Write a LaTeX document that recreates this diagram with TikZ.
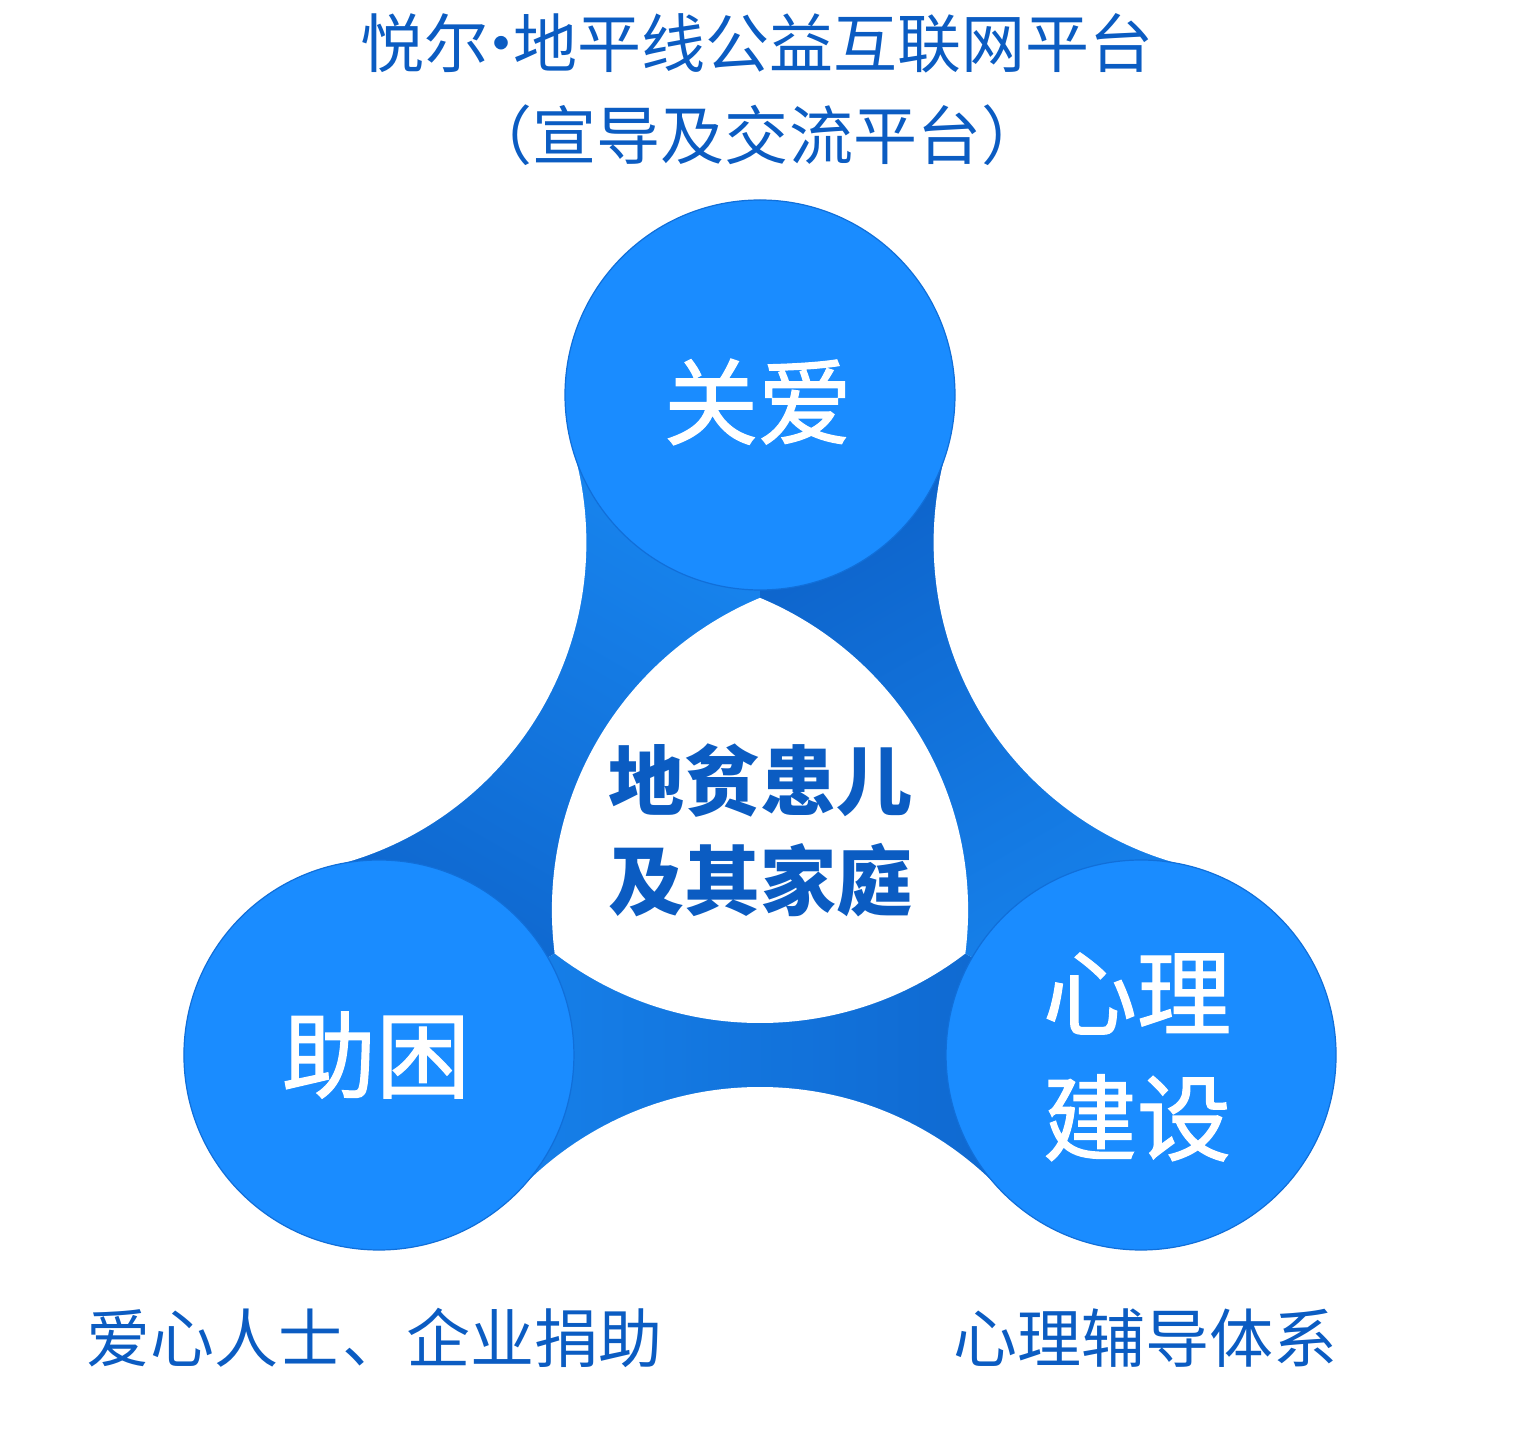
\documentclass[tikz,border=0pt]{standalone}
\usepackage{fontspec}
\newfontfamily\cjk{Noto Sans CJK SC}
\newfontfamily\cjkmid[FakeBold=1.3]{Noto Sans CJK SC}
\usetikzlibrary{calc}
\definecolor{ballblue}{HTML}{1A8CFF}
\definecolor{armlight}{HTML}{1886F0}
\definecolor{armdark}{HTML}{0D62C9}
\definecolor{inkblue}{HTML}{0B5CC2}
\tikzset{
  ball/.style={fill=ballblue, draw=armdark!70!ballblue, line width=0.6pt},
  arm/.style={top color=armlight, bottom color=armdark},
  title/.style={text=inkblue, font=\cjk\fontsize{32}{32}\selectfont},
  core/.style={text=inkblue, align=center, font=\cjk\bfseries\fontsize{38}{50}\selectfont},
  balltext/.style={text=white, align=center, font=\cjkmid\fontsize{47}{62.5}\selectfont},
  foot/.style={text=inkblue, font=\cjk\fontsize{32}{32}\selectfont}
}
\begin{document}
\begin{tikzpicture}[x=0.5pt,y=0.5pt]
\useasboundingbox (-760,-608) rectangle (758,835);
\coordinate (O) at (0,0);
\coordinate (care) at (90:440);
\coordinate (aid) at (210:440);
\coordinate (mind) at (330:440);
\coordinate (gapL) at (150:585);
\coordinate (gapB) at (270:585);
\coordinate (gapR) at (30:585);
%----arms, light end comes out of one ball, dark end goes under the next----
\shade[arm, shading angle=-30] (O) -- (care) -- (gapL) -- (aid) -- cycle;
\shade[arm, shading angle=90] (O) -- (aid) -- (gapB) -- (mind) -- cycle;
\shade[arm, shading angle=210] (O) -- (mind) -- (gapR) -- (care) -- cycle;
%----concave cuts between the balls----
\fill[white] (gapL) circle (333) (gapB) circle (333) (gapR) circle (333);
%----white middle----
\begin{scope}
\clip (90:150) circle (338);
\clip (210:150) circle (338);
\fill[white] (330:150) circle (338);
\end{scope}
%----balls----
\draw[ball] (care) circle (195);
\draw[ball] (aid) circle (195);
\draw[ball] (mind) circle (195);
%----text----
\node[title] (plat) at (-3,792) {悦尔\kern-0.3em·\kern-0.3em地平线公益互联网平台};
\node[title] (platsub) at (-3,700) {（宣导及交流平台）};
\node[core] (kids) at (0,5) {地贫患儿\\及其家庭};
\node[balltext] (careT) at (-2,433) {关爱};
\node[balltext] (aidT) at (-384,-220) {助困};
\node[balltext] (mindT) at (377,-222) {心理\\建设};
\node[foot] (aidF) at (-385,-503) {爱心人士、企业捐助};
\node[foot] (mindF) at (385,-503) {心理辅导体系};
\end{tikzpicture}
\end{document}
